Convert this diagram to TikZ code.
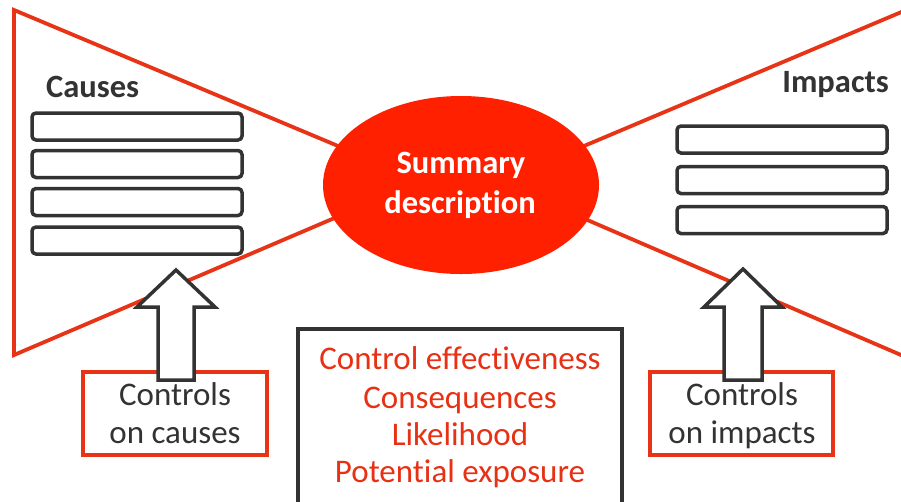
\documentclass[tikz,border=0pt]{standalone}
\usepackage{fontspec}
\setmainfont[Ligatures=NoCommon]{Carlito}
\usetikzlibrary{shapes.geometric}
\definecolor{triline}{RGB}{232,52,22}
\definecolor{ellred}{RGB}{255,32,0}
\definecolor{dk}{RGB}{51,51,51}
\definecolor{redtxt}{RGB}{232,48,20}
\tikzset{
  redline/.style={draw=triline, line width=3.8pt, line join=miter},
  listbox/.style={draw=dk, line width=3.5pt, rounded corners=4pt, fill=white},
  ctrlbox/.style={draw=triline, line width=3.5pt, fill=white},
  uparrow/.style={draw=dk, line width=3.5pt, fill=white, line join=miter},
  boldlab/.style={font=\fontsize{32.5}{38}\selectfont\bfseries, text=dk, inner sep=0pt},
  sumlab/.style={font=\fontsize{32.5}{38}\selectfont\bfseries, text=white, inner sep=0pt},
  ctrllab/.style={font=\fontsize{33}{38}\selectfont, text=dk, inner sep=0pt},
  redlab/.style={font=\fontsize{33}{38}\selectfont, text=redtxt, inner sep=0pt},
}
\begin{document}
\begin{tikzpicture}[x=1pt,y=-1pt]
\useasboundingbox[fill=white] (0,0) rectangle (901,501);
% left triangle
\coordinate (LT) at (14,10);
\coordinate (LB) at (14,355);
\coordinate (LTi) at (400,172);
\coordinate (LBi) at (400,190);
\draw[redline] (LTi) -- (LT) -- (LB) -- (LBi);
% right triangle
\coordinate (RT) at (905,10.5);
\coordinate (RB) at (905,356.7);
\coordinate (RTi) at (520,173);
\coordinate (RBi) at (520,191);
\draw[redline] (RT) -- (RTi);
\draw[redline] (RBi) -- (RB);
% ellipse
\node[ellipse, fill=ellred, minimum width=276pt, minimum height=178pt, inner sep=0pt] (sum) at (461,185) {};
\node[sumlab, anchor=base] (sum1) at (461,173) {Summary};
\node[sumlab, anchor=base] (sum2) at (460,213) {description};
% causes
\node[boldlab, anchor=base west] (causes) at (46,97) {Causes};
\node[listbox, minimum width=210pt, minimum height=27pt, inner sep=0pt] (c1) at (137,126.5) {};
\node[listbox, minimum width=210pt, minimum height=27pt, inner sep=0pt] (c2) at (137,164) {};
\node[listbox, minimum width=210pt, minimum height=27pt, inner sep=0pt] (c3) at (137,202) {};
\node[listbox, minimum width=210pt, minimum height=27pt, inner sep=0pt] (c4) at (137,240.5) {};
% impacts
\node[boldlab, anchor=base east] (impacts) at (889,92) {Impacts};
\node[listbox, minimum width=210pt, minimum height=27pt, inner sep=0pt] (i1) at (782,139.5) {};
\node[listbox, minimum width=210pt, minimum height=27pt, inner sep=0pt] (i2) at (782,180) {};
\node[listbox, minimum width=210pt, minimum height=27pt, inner sep=0pt] (i3) at (782,220) {};
% control boxes
\node[ctrlbox, minimum width=184pt, minimum height=83pt, inner sep=0pt] (cc) at (175,413.5) {};
\node[ctrlbox, minimum width=183pt, minimum height=83pt, inner sep=0pt] (ci) at (741.5,413.5) {};
\node[ctrllab, anchor=base] (cc1) at (175,405) {Controls};
\node[ctrllab, anchor=base] (cc2) at (175,443) {on causes};
\node[ctrllab, anchor=base] (ci1) at (742,405) {Controls};
\node[ctrllab, anchor=base] (ci2) at (742,443) {on impacts};
% arrows
\draw[uparrow] (158,380) -- (158,307) -- (137,307) -- (176,270) -- (215,307) -- (194,307) -- (194,380) -- cycle;
\draw[uparrow] (724,380) -- (724,307) -- (704,307) -- (743,269) -- (782,307) -- (762,307) -- (762,380) -- cycle;
% middle box
\draw[draw=dk, line width=3.5pt, fill=white] (298,329) rectangle (622,520);
\node[redlab, anchor=base] (m1) at (460,369) {Control effectiveness};
\node[redlab, anchor=base] (m2) at (460,408) {Consequences};
\node[redlab, anchor=base] (m3) at (460,445) {Likelihood};
\node[redlab, anchor=base] (m4) at (460,482) {Potential exposure};
\end{tikzpicture}
\end{document}
